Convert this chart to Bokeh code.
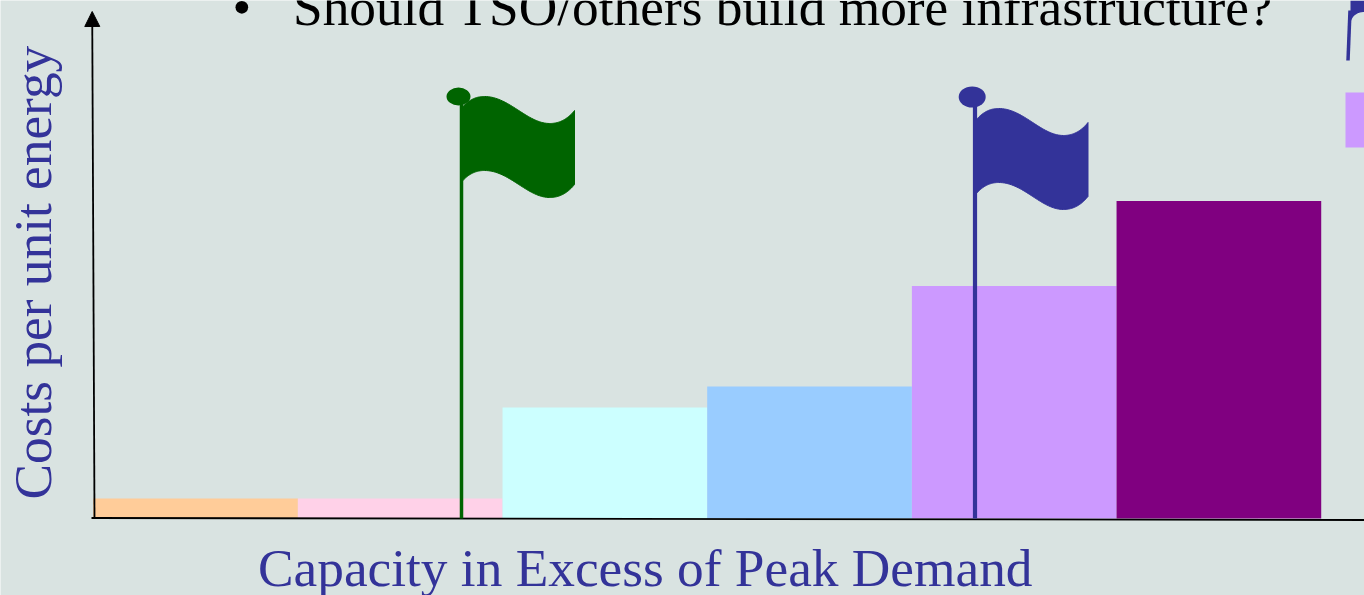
import numpy as np
from bokeh.embed import file_html
from bokeh.resources import INLINE
from bokeh.plotting import figure
from bokeh.models import Range1d, Arrow, NormalHead, ColumnDataSource
from bokeh.core.properties import value

# ---- chart data ----
bar_index = [0, 1, 2, 3, 4, 5]
bar_cost = [20, 20, 111, 132, 232.5, 317.5]
bar_colors = ["#FFCC99", "#FFD1E8", "#CCFFFF", "#99CCFF", "#CC99FF", "#800080"]
x_label = "Capacity in Excess of Peak Demand"
y_label = "Costs per unit energy"
bullet_text = "Should TSO/others build more infrastructure?"

BG = "#D9E3E1"
GREEN = "#006400"
BLUE = "#333399"
FONT = "Liberation Serif"

W, H = 1364, 595
BAR_W, X0, Y0 = 204.67, 92.7, 518.0


def dx(px):
    return (np.asarray(px, dtype=float) - X0) / BAR_W


def dy(py):
    return Y0 - np.asarray(py, dtype=float)


p = figure(width=W, height=H, output_backend="svg", toolbar_location=None,
           x_range=Range1d(float(dx(0)), float(dx(W))),
           y_range=Range1d(float(dy(H)), float(dy(0))),
           background_fill_color=BG, border_fill_color=BG,
           min_border=0, outline_line_color=None)
p.axis.visible = False
p.grid.visible = False

# bars
src = ColumnDataSource(dict(x=[i + 0.5 for i in bar_index], top=bar_cost, color=bar_colors))
p.vbar(x="x", width=1.0, bottom=0, top="top", fill_color="color", line_color=None,
       source=src)

# axes
p.line(dx([91, 1364]), dy([517.5, 519.5]), line_color="black", line_width=1.8)
p.add_layout(Arrow(x_start=float(dx(94)), y_start=float(dy(518)),
                   x_end=float(dx(91.7)), y_end=float(dy(11)),
                   line_color="black", line_width=1.8,
                   end=NormalHead(size=15, fill_color="black", line_color="black", line_width=1)))


def bez(a, b, c, d, n=40):
    t = np.linspace(0, 1, n)[:, None]
    a, b, c, d = map(np.array, (a, b, c, d))
    return (1 - t) ** 3 * a + 3 * (1 - t) ** 2 * t * b + 3 * (1 - t) * t ** 2 * c + t ** 3 * d


def flag(x_pole, x_left, x_right, top_y, height, color, ball, pole_w):
    """Waving flag: top_y = y of the wave's starting point in picture pixels."""
    w = x_right - x_left
    top = np.vstack([
        bez((x_left, top_y), (x_left + w * .07, top_y - 9), (x_left + w * .14, top_y - 11), (x_left + w * .2, top_y - 11)),
        bez((x_left + w * .2, top_y - 11), (x_left + w * .42, top_y - 11), (x_left + w * .58, top_y + 16), (x_left + w * .78, top_y + 16)),
        bez((x_left + w * .78, top_y + 16), (x_left + w * .88, top_y + 16), (x_left + w * .95, top_y + 10), (x_right, top_y + 3)),
    ])
    bottom = top[::-1] + np.array([0, height])
    pts = np.vstack([top, bottom])
    p.line(dx([x_pole, x_pole]), dy([ball[1], 518]), line_color=color, line_width=pole_w)
    p.patch(dx(pts[:, 0]), dy(pts[:, 1]), fill_color=color, line_color=color, line_width=1)
    p.ellipse(dx(ball[0]), dy(ball[1]), width=2 * ball[2] / BAR_W, height=2 * ball[3],
              fill_color=color, line_color=None)


flag(461, 461.5, 574, 107, 74, GREEN, (458, 96, 12, 9), 3.5)
flag(974.5, 976, 1087.5, 119, 74, BLUE, (971.7, 96.5, 13.5, 10.5), 4.2)

# next slide-element peeking in at the right edge
p.quad(left=dx(1345), right=dx(1364), top=dy(92), bottom=dy(147), fill_color="#CC99FF", line_color=None)
p.line(dx([1347.5, 1349.5]), dy([60, 10]), line_color=BLUE, line_width=3.5)
edge = bez((1350, 22), (1352, 14), (1358, 11.5), (1364, 11.5))
p.patch(dx(np.r_[edge[:, 0], 1364, 1350]), dy(np.r_[edge[:, 1], 0, 0]), fill_color=BLUE, line_color=None)

# texts
serif = value(FONT)
size = "53.33px"
p.text(dx([257.5]), dy([567]), text=value(x_label), text_font=serif, text_font_size=size,
       text_color=BLUE, text_baseline="alphabetic")
p.text(dx([32]), dy([499]), text=value(y_label), text_font=serif, text_font_size=size,
       text_color=BLUE, text_baseline="alphabetic", angle=np.pi / 2)
p.text(dx([292.5]), dy([6]), text=value(bullet_text), text_font=serif, text_font_size=size,
       text_color="black", text_baseline="alphabetic")
p.text(dx([232]), dy([6]), text=value("•"), text_font=serif, text_font_size=size,
       text_color="black", text_baseline="alphabetic")

open("out.html", "w").write(file_html(p, INLINE))
